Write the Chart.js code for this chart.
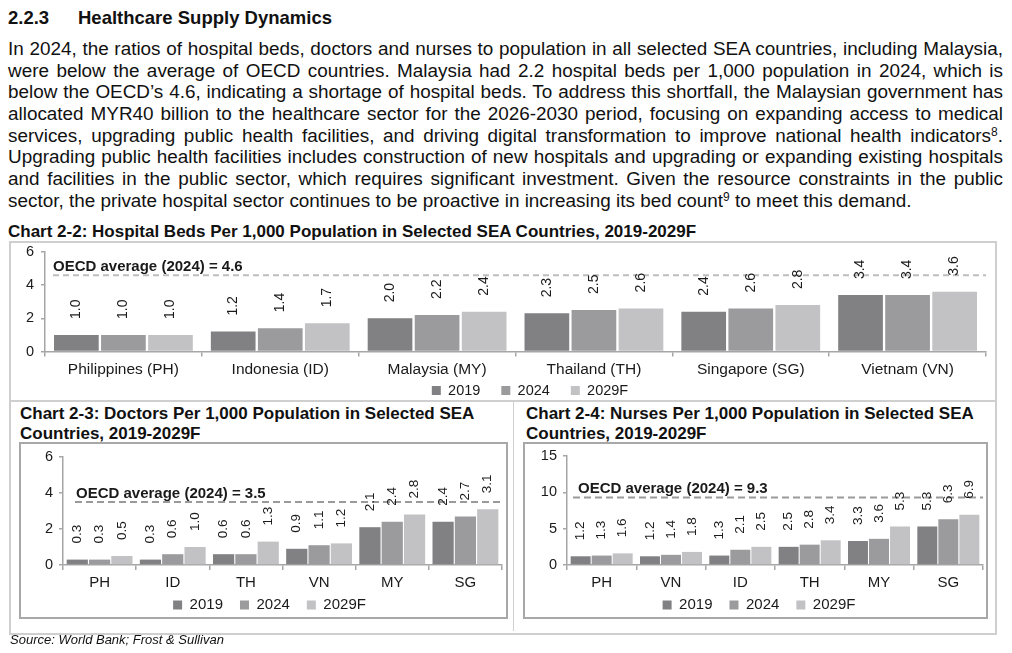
<!DOCTYPE html>
<html>
<head>
<meta charset="utf-8">
<script src="https://cdn.jsdelivr.net/npm/chart.js@4.4.0/dist/chart.umd.min.js"></script>
<style>
  body { margin: 0; background: #fff; font-family: "Liberation Sans", Arial, sans-serif; color: #111; }
  .abs { position: absolute; }
  .para { position: absolute; left: 8px; top: 38px; width: 995px; font-size: 18.9px; line-height: 21.65px; }
  .para div { text-align: justify; text-align-last: justify; white-space: nowrap; }
  .para div.last { text-align-last: left; }
  .para sup { font-size: 12px; line-height: 0; vertical-align: 6px; }
  .ttl { position: absolute; font-weight: bold; font-size: 17px; line-height: 19.5px; }
  .frame { position: absolute; border: 0 solid #cfcfcf; }
  .box { position: absolute; border: 2px solid #a8a8a8; box-sizing: border-box; }
  .cv { position: absolute; }
</style>
</head>
<body>
<div class="abs" style="left:8px;top:7px;font-weight:bold;font-size:18.5px;line-height:22px;">2.2.3<span style="position:absolute;left:70px;white-space:nowrap;">Healthcare Supply Dynamics</span></div>
<div class="para">
  <div>In 2024, the ratios of hospital beds, doctors and nurses to population in all selected SEA countries, including Malaysia,</div>
  <div>were below the average of OECD countries. Malaysia had 2.2 hospital beds per 1,000 population in 2024, which is</div>
  <div>below the OECD’s 4.6, indicating a shortage of hospital beds. To address this shortfall, the Malaysian government has</div>
  <div>allocated MYR40 billion to the healthcare sector for the 2026-2030 period, focusing on expanding access to medical</div>
  <div>services, upgrading public health facilities, and driving digital transformation to improve national health indicators<sup>8</sup>.</div>
  <div>Upgrading public health facilities includes construction of new hospitals and upgrading or expanding existing hospitals</div>
  <div>and facilities in the public sector, which requires significant investment. Given the resource constraints in the public</div>
  <div class="last">sector, the private hospital sector continues to be proactive in increasing its bed count<sup>9</sup> to meet this demand.</div>
</div>

<div class="ttl" style="left:8px;top:222px;">Chart 2-2: Hospital Beds Per 1,000 Population in Selected SEA Countries, 2019-2029F</div>

<!-- table frame -->
<div class="frame" style="left:9px;top:241px;width:984px;height:390px;border-width:2px;"></div>
<div class="frame" style="left:9px;top:400px;width:986px;height:0;border-top-width:2px;"></div>
<div class="frame" style="left:513px;top:401px;width:0;height:230px;border-left-width:1.5px;"></div>

<div class="ttl" style="left:20px;top:404px;">Chart 2-3: Doctors Per 1,000 Population in Selected SEA<br>Countries, 2019-2029F</div>
<div class="ttl" style="left:526px;top:404px;">Chart 2-4: Nurses Per 1,000 Population in Selected SEA<br>Countries, 2019-2029F</div>

<div class="box" style="left:19px;top:442px;width:489px;height:177px;"></div>
<div class="box" style="left:523px;top:442px;width:465px;height:177px;"></div>

<div class="cv" style="left:10px;top:243px;width:984px;height:184px;"><canvas id="beds-chart"></canvas></div>
<div class="cv" style="left:21px;top:444px;width:484px;height:193px;"><canvas id="doctors-chart"></canvas></div>
<div class="cv" style="left:525px;top:444px;width:461px;height:193px;"><canvas id="nurses-chart"></canvas></div>

<div class="abs" style="left:10px;top:632px;font-style:italic;font-size:13px;line-height:16px;">Source: World Bank; Frost &amp; Sullivan</div>

<script>
const years = ['2019', '2024', '2029F'];
const yearColors = ['#818184', '#9b9b9d', '#c2c2c4'];

// Chart 2-2 hospital beds
const bedCountries = ['Philippines (PH)', 'Indonesia (ID)', 'Malaysia (MY)', 'Thailand (TH)', 'Singapore (SG)', 'Vietnam (VN)'];
const beds2019 = [1.0, 1.2, 2.0, 2.3, 2.4, 3.4];
const beds2024 = [1.0, 1.4, 2.2, 2.5, 2.6, 3.4];
const beds2029 = [1.0, 1.7, 2.4, 2.6, 2.8, 3.6];
const bedsOecd = 4.6;
const bedsTicks = [0, 2, 4, 6];

// Chart 2-3 doctors
const doctorCountries = ['PH', 'ID', 'TH', 'VN', 'MY', 'SG'];
const doctors2019 = [0.3, 0.3, 0.6, 0.9, 2.1, 2.4];
const doctors2024 = [0.3, 0.6, 0.6, 1.1, 2.4, 2.7];
const doctors2029 = [0.5, 1.0, 1.3, 1.2, 2.8, 3.1];
const doctorsOecd = 3.5;
const doctorsTicks = [0, 2, 4, 6];

// Chart 2-4 nurses
const nurseCountries = ['PH', 'VN', 'ID', 'TH', 'MY', 'SG'];
const nurses2019 = [1.2, 1.2, 1.3, 2.5, 3.3, 5.3];
const nurses2024 = [1.3, 1.4, 2.1, 2.8, 3.6, 6.3];
const nurses2029 = [1.6, 1.8, 2.5, 3.4, 5.3, 6.9];
const nursesOecd = 9.3;
const nursesTicks = [0, 5, 10, 15];

const FONT = '"Liberation Sans", Arial, sans-serif';
Chart.defaults.font.family = FONT;
Chart.defaults.color = '#1a1a1a';

// dashed OECD average line with its caption
const oecdLine = {
	id: 'oecdLine',
	afterDatasetsDraw(chart, args, o) {
		const ctx = chart.ctx;
		const area = chart.chartArea;
		const y = chart.scales.y.getPixelForValue(o.value);
		ctx.save();
		ctx.strokeStyle = o.color;
		ctx.lineWidth = 2;
		ctx.setLineDash(o.dash);
		ctx.beginPath();
		ctx.moveTo(area.left + o.lineStart, y);
		ctx.lineTo(area.right, y);
		ctx.stroke();
		ctx.setLineDash([]);
		ctx.font = 'bold 15px ' + FONT;
		ctx.fillStyle = '#1a1a1a';
		ctx.textBaseline = 'alphabetic';
		ctx.fillText('OECD average (2024) = ' + o.value.toFixed(1), area.left + o.textStart, y - o.lift);
		ctx.restore();
	}
};

// rotated value labels above each bar
const barLabels = {
	id: 'barLabels',
	afterDatasetsDraw(chart, args, o) {
		const ctx = chart.ctx;
		ctx.save();
		ctx.font = o.size + 'px ' + FONT;
		ctx.fillStyle = '#1a1a1a';
		ctx.textAlign = 'left';
		ctx.textBaseline = 'middle';
		chart.data.datasets.forEach((ds, i) => {
			chart.getDatasetMeta(i).data.forEach((bar, j) => {
				ctx.save();
				ctx.translate(bar.x, bar.y - o.gap);
				ctx.rotate(-Math.PI / 2);
				ctx.fillText(ds.data[j].toFixed(1), 0, 0);
				ctx.restore();
			});
		});
		ctx.restore();
	}
};

// pull the legend up closer to the axis labels
const legendNudge = {
	id: 'legendNudge',
	afterLayout(chart, args, o) {
		const lg = chart.legend;
		lg.top -= o.dy; lg.bottom -= o.dy;
		lg.left += o.dx; lg.right += o.dx;
	}
};

const makeChart = (id, cats, series, ticks, oecd, cfg) => {
	const xH = 30;
	const itemH = Math.max(cfg.legendFont, 9);
	const axisColor = '#a6a6a6';
	return new Chart(document.getElementById(id), {
		type: 'bar',
		data: {
			labels: cats,
			datasets: series.map((d, i) => ({
				label: years[i],
				data: d,
				backgroundColor: yearColors[i],
				borderWidth: 0,
				barPercentage: 0.95,
				categoryPercentage: cfg.catPct
			}))
		},
		options: {
			responsive: true,
			maintainAspectRatio: false,
			animation: false,
			layout: { padding: { top: cfg.top, right: cfg.right, left: 0, bottom: 0 } },
			scales: {
				x: {
					afterFit: s => { s.height = xH; },
					border: { color: axisColor, width: 1.5 },
					grid: { drawOnChartArea: false, color: axisColor, tickLength: 5, lineWidth: 1.5 },
					ticks: { font: { size: cfg.catFont }, padding: 4, color: '#1a1a1a' }
				},
				y: {
					min: ticks[0],
					max: ticks[ticks.length - 1],
					afterFit: s => { s.width = cfg.axisX; s.paddingTop = 0; s.paddingBottom = 0; },
					afterBuildTicks: s => { s.ticks = ticks.map(v => ({ value: v })); },
					border: { color: axisColor, width: 1.5 },
					grid: { drawOnChartArea: false, color: axisColor, tickLength: 4, lineWidth: 1.5 },
					ticks: { font: { size: 14.5 }, padding: cfg.yPad, color: '#1a1a1a' }
				}
			},
			plugins: {
				legend: {
					position: 'bottom',
					labels: { boxWidth: 9, boxHeight: 9, padding: cfg.legendPad, font: { size: cfg.legendFont }, color: '#1a1a1a' }
				},
				tooltip: { enabled: false },
				oecdLine: { value: oecd, color: cfg.dashColor, dash: cfg.dash, lineStart: cfg.lineStart, textStart: cfg.textStart, lift: 4.5 },
				barLabels: { size: cfg.labelFont, gap: 16 },
				legendNudge: { dy: xH + cfg.legendPad + itemH / 2 - cfg.legendGap, dx: cfg.legendDx }
			}
		},
		plugins: [oecdLine, barLabels, legendNudge]
	});
};

makeChart('beds-chart', bedCountries, [beds2019, beds2024, beds2029], bedsTicks, bedsOecd, {
	top: 9, right: 8, axisX: 35, yPad: 7,
	catPct: 0.9, catFont: 15.5, legendFont: 14.5, legendPad: 21, legendGap: 39, legendDx: 32, labelFont: 14,
	dashColor: '#bdbdbd', dash: [6, 4], lineStart: 8, textStart: 8
});

makeChart('doctors-chart', doctorCountries, [doctors2019, doctors2024, doctors2029], doctorsTicks, doctorsOecd, {
	top: 13, right: 3, axisX: 42, yPad: 6,
	catPct: 0.915, catFont: 15, legendFont: 15, legendPad: 17, legendGap: 40, legendDx: 8, labelFont: 13.5,
	dashColor: '#9a9a9a', dash: [7, 4], lineStart: 12, textStart: 13
});

makeChart('nurses-chart', nurseCountries, [nurses2019, nurses2024, nurses2029], nursesTicks, nursesOecd, {
	top: 12, right: 3, axisX: 42, yPad: 6,
	catPct: 0.91, catFont: 15, legendFont: 15, legendPad: 17, legendGap: 40, legendDx: 5, labelFont: 13.5,
	dashColor: '#9a9a9a', dash: [7, 4], lineStart: 6, textStart: 11
});
</script>
</body>
</html>
